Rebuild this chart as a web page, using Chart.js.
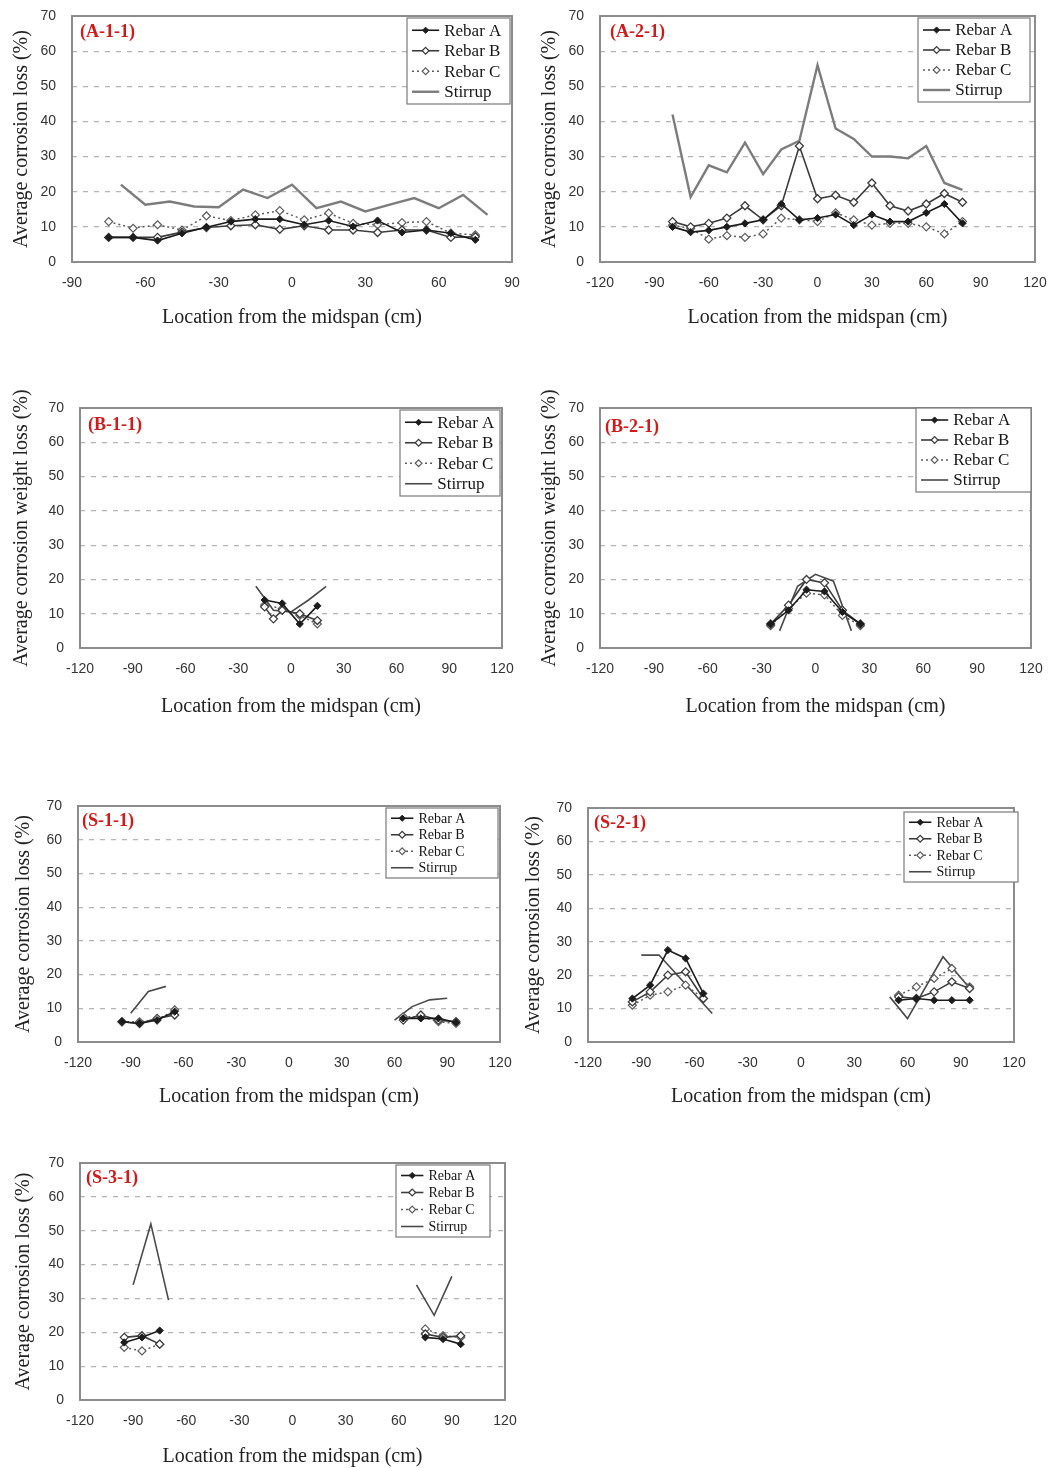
<!DOCTYPE html>
<html lang="en">
<head>
<meta charset="UTF-8">
<title>Average corrosion loss along the span</title>
<style>
  body { margin: 0; background: #fff; }
  #page { position: relative; width: 1051px; height: 1468px; }
  #page canvas { position: absolute; }
</style>
</head>
<body>
<div id="page"></div>

<script src="https://cdn.jsdelivr.net/npm/chart.js"></script>
<script>
// ---- specimen A-1-1
const a11RebarLoc = [-75, -65, -55, -45, -35, -25, -15, -5, 5, 15, 25, 35, 45, 55, 65, 75];
const a11RebarA = [7, 7, 6.1, 8.2, 9.9, 11.5, 12.2, 12.2, 10.6, 11.8, 10.1, 11.8, 8.4, 9.1, 8.2, 6.3];
const a11RebarB = [7, 7, 7, 8.5, 9.8, 10.3, 10.6, 9.3, 10.3, 9.1, 9.1, 8.4, 9.1, 9.1, 7, 7.2];
const a11RebarC = [11.5, 9.6, 10.6, 9.1, 13.1, 11.8, 13.4, 14.6, 12, 13.9, 11, 10.6, 11.2, 11.5, 8.2, 7.7];
const a11StirrupLoc = [-70, -60, -50, -40, -30, -20, -10, 0, 10, 20, 30, 40, 50, 60, 70, 80];
const a11Stirrup = [22, 16.3, 17.2, 15.8, 15.6, 20.6, 18.2, 22, 15.3, 17.2, 14.4, 16.3, 18.2, 15.3, 19.1, 13.4];

// ---- specimen A-2-1
const a21Loc = [-80, -70, -60, -50, -40, -30, -20, -10, 0, 10, 20, 30, 40, 50, 60, 70, 80];
const a21RebarA = [10, 8.5, 9, 10, 11, 12, 16.5, 12, 12.5, 13.5, 10.5, 13.5, 11.5, 11.5, 14, 16.5, 11];
const a21RebarB = [11.5, 10, 11, 12.5, 16, 12, 16, 33, 18, 19, 17, 22.5, 16, 14.5, 16.5, 19.5, 17];
const a21RebarC = [10.5, 9.5, 6.5, 7.5, 7, 8, 12.5, 12, 11.5, 14, 12, 10.5, 11, 11, 10, 8, 11.5];
const a21Stirrup = [42, 18.5, 27.5, 25.5, 34, 25, 32, 34.5, 56, 38, 35, 30, 30, 29.5, 33, 22.5, 20.5];

// ---- specimen B-1-1
const b11LocA = [-15, -5, 5, 15];
const b11RebarA = [14, 13, 7, 12.3];
const b11LocB = [-15, -10, -5, 5, 15];
const b11RebarB = [12, 8.5, 11, 10, 8];
const b11LocC = [-15, -5, 5, 15];
const b11RebarC = [12.5, 11.5, 9.5, 7];
const b11StirrupLoc = [-20, -10, 0, 10, 20];
const b11Stirrup = [18, 11, 10.5, 14, 18];

// ---- specimen B-2-1
const b21Loc = [-25, -15, -5, 5, 15, 25];
const b21RebarA = [7, 11, 17, 16.5, 10.5, 7];
const b21RebarB = [7, 12.5, 20, 19, 11, 7];
const b21RebarC = [6.5, 11.5, 16, 15.5, 9.5, 6.5];
const b21StirrupLoc = [-20, -10, 0, 10, 20];
const b21Stirrup = [5, 18, 21.5, 19.5, 5];

// ---- specimen S-1-1 (two separate end zones, null breaks the line)
const s11Loc = [-95, -85, -75, -65, 0, 65, 75, 85, 95];
const s11RebarA = [6, 5.5, 6.5, 9, null, 7, 7, 7, 5.8];
const s11RebarB = [6, 5.5, 7, 8, null, 6.5, 8, 6.5, 6];
const s11RebarC = [6, 6, 6.5, 9.5, null, 7.5, 7.5, 6, 5.5];
const s11StirrupLoc = [-90, -80, -70, 0, 60, 70, 80, 90];
const s11Stirrup = [8.5, 15, 16.5, null, 6.5, 10.5, 12.5, 13];

// ---- specimen S-2-1
const s21Loc = [-95, -85, -75, -65, -55, 0, 55, 65, 75, 85, 95];
const s21RebarA = [13, 17, 27.5, 25, 14.5, null, 12.5, 13, 12.5, 12.5, 12.5];
const s21RebarB = [12, 15, 20, 21, 13, null, 13.5, 13, 15, 18, 16];
const s21RebarC = [11, 14, 15, 17, 13, null, 14, 16.5, 19, 22, 16.5];
const s21StirrupLoc = [-90, -80, -50, 0, 50, 60, 80, 96];
const s21Stirrup = [26, 26, 8.5, null, 13.5, 7, 25.5, 15.5];

// ---- specimen S-3-1
const s31Loc = [-95, -85, -75, 0, 75, 85, 95];
const s31RebarA = [17, 18.5, 20.5, null, 18.5, 18, 16.5];
const s31RebarB = [18.5, 19, 16.5, null, 19.5, 18.5, 19];
const s31RebarC = [15.5, 14.5, 16.5, null, 21, 19, 18.5];
const s31StirrupLoc = [-90, -80, -70, 0, 70, 80, 90];
const s31Stirrup = [34, 52, 29.5, null, 34, 25, 36.5];

const xTitle = 'Location from the midspan (cm)';
const lossTitle = 'Average corrosion loss (%)';
const weightTitle = 'Average corrosion weight loss (%)';

function pts(loc, vals) {
    return loc.map((x, i) => ({ x: x, y: vals[i] }));
}

const rebarA = { label: 'Rebar A', borderColor: '#1c1c1c', pointBackgroundColor: '#1c1c1c', pointBorderColor: '#1c1c1c',
    borderWidth: 1.6, pointStyle: 'rectRot', pointRadius: 3.6, pointBorderWidth: 1 };
const rebarB = { label: 'Rebar B', borderColor: '#3c3c3c', pointBackgroundColor: '#fff', pointBorderColor: '#3c3c3c',
    borderWidth: 1.6, pointStyle: 'rectRot', pointRadius: 4, pointBorderWidth: 1.3 };
const rebarC = { label: 'Rebar C', borderColor: '#5c5c5c', pointBackgroundColor: '#fff', pointBorderColor: '#5c5c5c',
    borderWidth: 1.5, borderDash: [2, 3], pointStyle: 'rectRot', pointRadius: 4, pointBorderWidth: 1.2 };
const stirrupWide = { label: 'Stirrup', borderColor: '#7c7c7c', borderWidth: 2.4, pointRadius: 0 };
const stirrupThin = { label: 'Stirrup', borderColor: '#4a4a4a', borderWidth: 1.6, pointRadius: 0 };

function sets(a, b, c, s, stStyle) {
    return [
        Object.assign({ data: a }, rebarA),
        Object.assign({ data: b }, rebarB),
        Object.assign({ data: c }, rebarC),
        Object.assign({ data: s }, stStyle)
    ];
}

const panels = [
    { tag: '(A-1-1)', box: { l: 72, r: 512, t: 16, b: 262 }, xr: [-90, 90], yW: 62, xH: 68, yTitle: lossTitle,
      tagAt: [8, 16], legend: { right: 2, top: 2, w: 103, row: 20.5, size: 17 },
      datasets: sets(pts(a11RebarLoc, a11RebarA), pts(a11RebarLoc, a11RebarB), pts(a11RebarLoc, a11RebarC),
                     pts(a11StirrupLoc, a11Stirrup), stirrupWide) },
    { tag: '(A-2-1)', box: { l: 600, r: 1035, t: 16, b: 262 }, xr: [-120, 120], yW: 62, xH: 68, yTitle: lossTitle,
      tagAt: [10, 16], legend: { right: 5, top: 2, w: 112, row: 20, size: 17 },
      datasets: sets(pts(a21Loc, a21RebarA), pts(a21Loc, a21RebarB), pts(a21Loc, a21RebarC),
                     pts(a21Loc, a21Stirrup), stirrupWide) },
    { tag: '(B-1-1)', box: { l: 80, r: 502, t: 408, b: 648 }, xr: [-120, 120], yW: 70, xH: 71, yTitle: weightTitle,
      tagAt: [8, 17], legend: { right: 2, top: 2, w: 100, row: 20.5, size: 17 },
      datasets: sets(pts(b11LocA, b11RebarA), pts(b11LocB, b11RebarB), pts(b11LocC, b11RebarC),
                     pts(b11StirrupLoc, b11Stirrup), stirrupThin) },
    { tag: '(B-2-1)', box: { l: 600, r: 1031, t: 408, b: 648 }, xr: [-120, 120], yW: 62, xH: 71, yTitle: weightTitle,
      tagAt: [5, 19], legend: { right: 0, top: 0, w: 115, row: 20, size: 17 },
      datasets: sets(pts(b21Loc, b21RebarA), pts(b21Loc, b21RebarB), pts(b21Loc, b21RebarC),
                     pts(b21StirrupLoc, b21Stirrup), stirrupThin) },
    { tag: '(S-1-1)', box: { l: 78, r: 500, t: 806, b: 1042 }, xr: [-120, 120], yW: 66, xH: 67, yTitle: lossTitle,
      tagAt: [4, 15], legend: { right: 2, top: 2, w: 112, row: 16.5, size: 14 },
      datasets: sets(pts(s11Loc, s11RebarA), pts(s11Loc, s11RebarB), pts(s11Loc, s11RebarC),
                     pts(s11StirrupLoc, s11Stirrup), stirrupThin) },
    { tag: '(S-2-1)', box: { l: 588, r: 1014, t: 808, b: 1042 }, xr: [-120, 120], yW: 66, xH: 67, yTitle: lossTitle,
      tagAt: [6, 15], legend: { right: -4, top: 4, w: 114, row: 16.5, size: 14 },
      datasets: sets(pts(s21Loc, s21RebarA), pts(s21Loc, s21RebarB), pts(s21Loc, s21RebarC),
                     pts(s21StirrupLoc, s21Stirrup), stirrupThin) },
    { tag: '(S-3-1)', box: { l: 80, r: 505, t: 1163, b: 1400 }, xr: [-120, 120], yW: 68, xH: 69, yTitle: lossTitle,
      tagAt: [6, 15], legend: { right: 15, top: 2, w: 94, row: 17, size: 14 },
      datasets: sets(pts(s31Loc, s31RebarA), pts(s31Loc, s31RebarB), pts(s31Loc, s31RebarC),
                     pts(s31StirrupLoc, s31Stirrup), stirrupThin) }
];

// room kept around the plot area for the end tick labels and long axis titles
const PAD_TOP = 30;
const PAD_RIGHT = 16;

function diamond(ctx, x, y, r) {
    ctx.beginPath();
    ctx.moveTo(x, y - r);
    ctx.lineTo(x + r, y);
    ctx.lineTo(x, y + r);
    ctx.lineTo(x - r, y);
    ctx.closePath();
    ctx.fill();
    ctx.stroke();
}

// panel frame, red specimen tag and the boxed legend inside the plot area
const framePlugin = {
    id: 'frame',
    afterDraw(chart, args, opts) {
        const ctx = chart.ctx;
        const a = chart.chartArea;
        ctx.save();
        ctx.strokeStyle = '#8c8c8c';
        ctx.lineWidth = 2;
        ctx.strokeRect(a.left, a.top, a.right - a.left, a.bottom - a.top);

        ctx.fillStyle = '#d11a1a';
        ctx.font = 'bold 18px "Liberation Serif"';
        ctx.textBaseline = 'middle';
        ctx.textAlign = 'left';
        ctx.fillText(opts.tag, a.left + opts.tagAt[0], a.top + opts.tagAt[1]);

        const lg = opts.legend;
        const h = lg.row * 4 + 4;
        const x0 = a.right - lg.right - lg.w;
        const y0 = a.top + lg.top;
        ctx.fillStyle = '#fff';
        ctx.fillRect(x0, y0, lg.w, h);
        ctx.strokeStyle = '#7a7a7a';
        ctx.lineWidth = 1.2;
        ctx.strokeRect(x0, y0, lg.w, h);

        const lineLen = lg.size * 1.6;
        chart.data.datasets.forEach((ds, i) => {
            const cy = y0 + 2 + lg.row * (i + 0.5);
            const sx = x0 + 5;
            const ex = sx + lineLen;
            ctx.strokeStyle = ds.borderColor;
            ctx.lineWidth = ds.borderWidth;
            ctx.setLineDash(ds.borderDash || []);
            ctx.beginPath();
            ctx.moveTo(sx, cy);
            ctx.lineTo(ex, cy);
            ctx.stroke();
            ctx.setLineDash([]);
            if (ds.pointRadius) {
                ctx.fillStyle = ds.pointBackgroundColor;
                ctx.strokeStyle = ds.pointBorderColor;
                ctx.lineWidth = ds.pointBorderWidth;
                diamond(ctx, (sx + ex) / 2, cy, ds.pointRadius * 0.85);
            }
            ctx.fillStyle = '#151515';
            ctx.font = lg.size + 'px "Liberation Serif"';
            ctx.fillText(ds.label, ex + 5, cy + 1);
        });
        ctx.restore();
    }
};

const page = document.getElementById('page');

panels.forEach(p => {
    const canvas = document.createElement('canvas');
    canvas.width = p.yW + (p.box.r - p.box.l) + PAD_RIGHT;
    canvas.height = PAD_TOP + (p.box.b - p.box.t) + p.xH;
    canvas.style.left = (p.box.l - p.yW) + 'px';
    canvas.style.top = (p.box.t - PAD_TOP) + 'px';
    page.appendChild(canvas);

    const tickFont = { family: '"Liberation Sans"', size: 14 };
    const titleFont = { family: '"Liberation Serif"', size: 20 };

    new Chart(canvas, {
        type: 'line',
        data: { datasets: p.datasets },
        options: {
            responsive: false,
            animation: false,
            events: [],
            layout: { padding: { top: PAD_TOP, right: PAD_RIGHT, left: 0, bottom: 0 }, autoPadding: false },
            plugins: {
                legend: { display: false },
                tooltip: { enabled: false },
                frame: { tag: p.tag, tagAt: p.tagAt, legend: p.legend }
            },
            scales: {
                x: {
                    type: 'linear',
                    min: p.xr[0],
                    max: p.xr[1],
                    // fixed axis size, no extra room for end labels
                    afterFit: s => { s.height = p.xH; s.paddingLeft = 0; s.paddingRight = 0; },
                    ticks: { stepSize: 30, autoSkip: false, maxRotation: 0, padding: 5, color: '#333', font: tickFont },
                    grid: { display: false },
                    border: { display: false },
                    title: { display: true, text: xTitle, padding: 0, color: '#222', font: titleFont }
                },
                y: {
                    min: 0,
                    max: 70,
                    afterFit: s => { s.width = p.yW; s.paddingTop = 0; s.paddingBottom = 0; },
                    ticks: { stepSize: 10, padding: 16, color: '#333', font: tickFont },
                    grid: { color: '#b4b4b4', lineWidth: 1.2, drawTicks: false },
                    border: { display: false, dash: [5, 6] },
                    title: { display: true, text: p.yTitle, padding: 0, color: '#222', font: titleFont }
                }
            }
        },
        plugins: [framePlugin]
    });
});
</script>
</body>
</html>
